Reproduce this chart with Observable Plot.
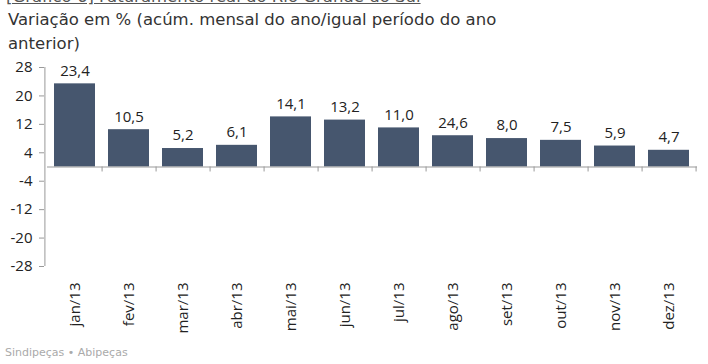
<!DOCTYPE html>
<html>
<head>
<meta charset="utf-8">
<script src="https://cdn.jsdelivr.net/npm/d3@7"></script>
<script src="https://cdn.jsdelivr.net/npm/@observablehq/plot@0.6"></script>
<style>
  html, body { margin: 0; padding: 0; background: #fff; }
  #root { position: relative; width: 708px; height: 364px; overflow: hidden; }
  #title { position: absolute; left: 6px; top: -13px; font: 16.5px "DejaVu Sans", sans-serif; color: #555; text-decoration: underline; white-space: nowrap; }
  #subtitle { position: absolute; left: 8px; top: 8px; font: 16.5px "DejaVu Sans", sans-serif; line-height: 24px; color: #333; white-space: nowrap; }
  #chart { position: absolute; left: 0; top: 0; }
  #source { position: absolute; left: 5px; top: 346px; font: 11px "DejaVu Sans", sans-serif; color: #aaa; white-space: nowrap; }
</style>
</head>
<body>
<div id="root">
  <div id="chart"></div>
  <div id="title">[Gráfico 6] Faturamento real do Rio Grande do Sul</div>
  <div id="subtitle">Variação em % (acúm. mensal do ano/igual período do ano<br>anterior)</div>
  <div id="source">Sindipeças • Abipeças</div>
</div>
<script>
const months = ["jan/13","fev/13","mar/13","abr/13","mai/13","jun/13","jul/13","ago/13","set/13","out/13","nov/13","dez/13"];
const values = [23.4, 10.5, 5.2, 6.1, 14.1, 13.2, 11.0, 8.8, 8.0, 7.5, 5.9, 4.7];
const labels = ["23,4","10,5","5,2","6,1","14,1","13,2","11,0","24,6","8,0","7,5","5,9","4,7"];
const yTicks = [28, 20, 12, 4, -4, -12, -20, -28];

const data = months.map((m, i) => ({month: m, value: values[i], label: labels[i]}));

const W = 708, H = 364, mL = 47, mR = 11;
const step = (W - mL - mR) / months.length;

const chart = Plot.plot({
  width: W,
  height: H,
  marginTop: 67,
  marginBottom: 98,
  marginLeft: mL,
  marginRight: mR,
  style: {fontFamily: "'Open Sans', sans-serif", fontSize: "15px", color: "#222", background: "transparent"},
  x: {domain: months, paddingInner: 0.24, paddingOuter: 0.12},
  y: {domain: [-28, 28]},
  marks: [
    Plot.barY(data, {x: "month", y: "value", fill: "#46566e"}),
    Plot.text(data, {x: "month", y: "value", text: "label", dy: -13, fontSize: 15, fill: "#222"}),
    Plot.ruleY([0], {stroke: "#999", strokeWidth: 1.2}),
    Plot.ruleX(data, {x: "month", y1: 0, y2: -1.4, dx: step / 2, stroke: "#999"}),
    Plot.axisY({ticks: yTicks, tickFormat: d => String(d), tickSize: 5, tickPadding: 7, stroke: "#999", fontSize: 15, label: null, dx: -3}),
    Plot.ruleX([months[0]], {x: d => d, dx: -step / 2 - 3, y1: -28, y2: 28, stroke: "#999"}),
    Plot.axisX({tickRotate: -90, tickSize: 0, tickPadding: 16, fontSize: 15, label: null})
  ]
});
document.getElementById("chart").appendChild(chart);
</script>
</body>
</html>
